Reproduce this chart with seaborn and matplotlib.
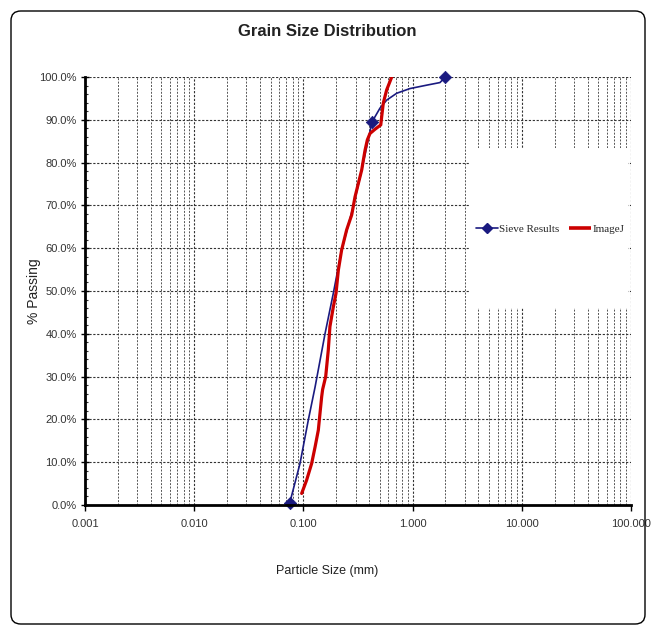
import matplotlib
matplotlib.use("Agg")
import matplotlib.pyplot as plt
import seaborn as sns
import numpy as np
import pandas as pd
from matplotlib.lines import Line2D
from matplotlib.patches import Rectangle, FancyBboxPatch
from matplotlib.ticker import FixedLocator, FixedFormatter, LogLocator, MultipleLocator, NullFormatter

# ---- data ----
sieve_size = [0.075, 0.425, 2.0]
sieve_pass = [0.5, 89.5, 100.0]

sieve_curve_size = [0.075, 0.0931, 0.111, 0.128, 0.158, 0.188, 0.224, 0.286, 0.342, 0.380, 0.425,
                    0.502, 0.579, 0.715, 0.946, 1.35, 1.78, 2.0]
sieve_curve_pass = [0.5, 9.7, 19.9, 27.6, 40.1, 49.5, 59.6, 69.7, 78.3, 83.7, 89.5,
                    92.7, 94.6, 96.2, 97.3, 98.1, 98.7, 100.0]

imagej_size = [0.0964, 0.107, 0.119, 0.128, 0.137, 0.142, 0.147, 0.150, 0.160, 0.169, 0.175, 0.188,
               0.199, 0.209, 0.224, 0.249, 0.277, 0.297, 0.319, 0.342, 0.354, 0.367, 0.385, 0.407,
               0.453, 0.511, 0.521, 0.539, 0.579, 0.644]
imagej_pass = [2.7, 5.8, 9.7, 13.6, 17.5, 21.5, 25.3, 27.0, 30.0, 36.2, 41.7, 46.3,
               49.5, 54.9, 59.6, 64.3, 67.8, 72.0, 75.2, 78.3, 80.6, 82.9, 85.3, 86.8,
               87.8, 88.8, 90.7, 93.9, 97.0, 100.0]

x_ticks = [0.001, 0.01, 0.1, 1, 10, 100]
x_tick_labels = ["0.001", "0.010", "0.100", "1.000", "10.000", "100.000"]
y_ticks = list(range(0, 101, 10))
y_tick_labels = [f"{v:.1f}%" for v in y_ticks]

title = "Grain Size Distribution"
x_label = "Particle Size (mm)"
y_label = "% Passing"
series_names = ["Sieve Results", "ImageJ"]

NAVY = "#1a1a80"
RED = "#cc0000"

sns.set_theme(style="white")
plt.rcParams['font.family'] = ['Liberation Sans Narrow', 'Liberation Sans', 'DejaVu Sans']

fig = plt.figure(figsize=(6.54, 6.36), dpi=100)
ax = fig.add_axes([85/654, 1-505/636, (631-85)/654, (505-77)/636])

# outer rounded frame
frame = FancyBboxPatch((11/654, 12/636), (645-11)/654, (625-12)/636,
                       boxstyle="round,pad=0,rounding_size=0.015",
                       transform=fig.transFigure, fill=False, edgecolor="black", linewidth=1.0)
fig.patches.append(frame)

df_curve = pd.DataFrame({"size": sieve_curve_size, "pass": sieve_curve_pass})
df_ij = pd.DataFrame({"size": imagej_size, "pass": imagej_pass})
df_sieve = pd.DataFrame({"size": sieve_size, "pass": sieve_pass})

sns.lineplot(data=df_curve, x="size", y="pass", sort=False, estimator=None, ax=ax,
             color=NAVY, linewidth=1.2, zorder=4)
sns.lineplot(data=df_ij, x="size", y="pass", sort=False, estimator=None, ax=ax,
             color=RED, linewidth=2.3, zorder=5)
sns.scatterplot(data=df_sieve, x="size", y="pass", ax=ax, marker="D", s=40,
                color=NAVY, edgecolor=NAVY, zorder=6, clip_on=False)

ax.set_xscale("log")
ax.set_xlim(0.001, 100)
ax.set_ylim(0, 100)

ax.xaxis.set_major_locator(FixedLocator(x_ticks))
ax.xaxis.set_major_formatter(FixedFormatter(x_tick_labels))
ax.xaxis.set_minor_locator(LogLocator(base=10, subs=np.arange(2, 10)))
ax.xaxis.set_minor_formatter(NullFormatter())
ax.yaxis.set_major_locator(FixedLocator(y_ticks))
ax.yaxis.set_major_formatter(FixedFormatter(y_tick_labels))
ax.yaxis.set_minor_locator(MultipleLocator(2))

ax.grid(True, which="major", axis="both", color="#333333", linestyle=(0, (2, 1.5)), linewidth=0.8)
ax.grid(True, which="minor", axis="x", color="#555555", linestyle=(0, (2, 1.5)), linewidth=0.7)
ax.set_axisbelow(True)

for s in ["top", "right"]:
    ax.spines[s].set_visible(False)
for s in ["left", "bottom"]:
    ax.spines[s].set_color("black")
    ax.spines[s].set_linewidth(2.0)
    ax.spines[s].set_zorder(7)

ax.tick_params(axis="x", which="major", direction="out", length=4, width=1, colors="black",
               labelsize=8, labelcolor="#333333", pad=6, bottom=True)
ax.tick_params(axis="x", which="minor", length=0)
ax.tick_params(axis="y", which="major", direction="inout", length=6, width=1, colors="black",
               labelsize=8, labelcolor="#333333", pad=3, left=True)
ax.tick_params(axis="y", which="minor", direction="in", length=2.5, width=0.8, colors="#333333", left=True)

ax.set_xlabel(x_label, fontsize=9, color="#222222")
ax.xaxis.set_label_coords((327-85)/546, (505-565)/428)
ax.set_ylabel(y_label, fontsize=10, color="#222222",
              family=['Liberation Sans', 'DejaVu Sans'])
ax.yaxis.set_label_coords((41-85)/546, (505-291)/428)
fig.text(327/654, 1-32/636, title, ha="center", va="center", fontsize=12, fontweight="bold",
         color="#222222")

# white legend area
ax.add_patch(Rectangle(((470-85)/546, (505-308)/428), (628-470)/546, (308-148)/428,
                       transform=ax.transAxes, facecolor="white", edgecolor="none", zorder=3))
handles = [Line2D([], [], color=NAVY, linewidth=1.2, marker="D", markersize=5),
           Line2D([], [], color=RED, linewidth=2.6, solid_capstyle="butt")]
leg = ax.legend(handles, series_names, loc="center", bbox_to_anchor=((550-85)/546, (505-229)/428),
                ncol=2, frameon=False, handlelength=2.0, handletextpad=0.15, columnspacing=0.8,
                borderpad=0, borderaxespad=0,
                prop={"family": ["Liberation Serif", "DejaVu Serif"], "size": 8})
leg.set_zorder(8)

fig.savefig("out.png", dpi=100, facecolor="white")
